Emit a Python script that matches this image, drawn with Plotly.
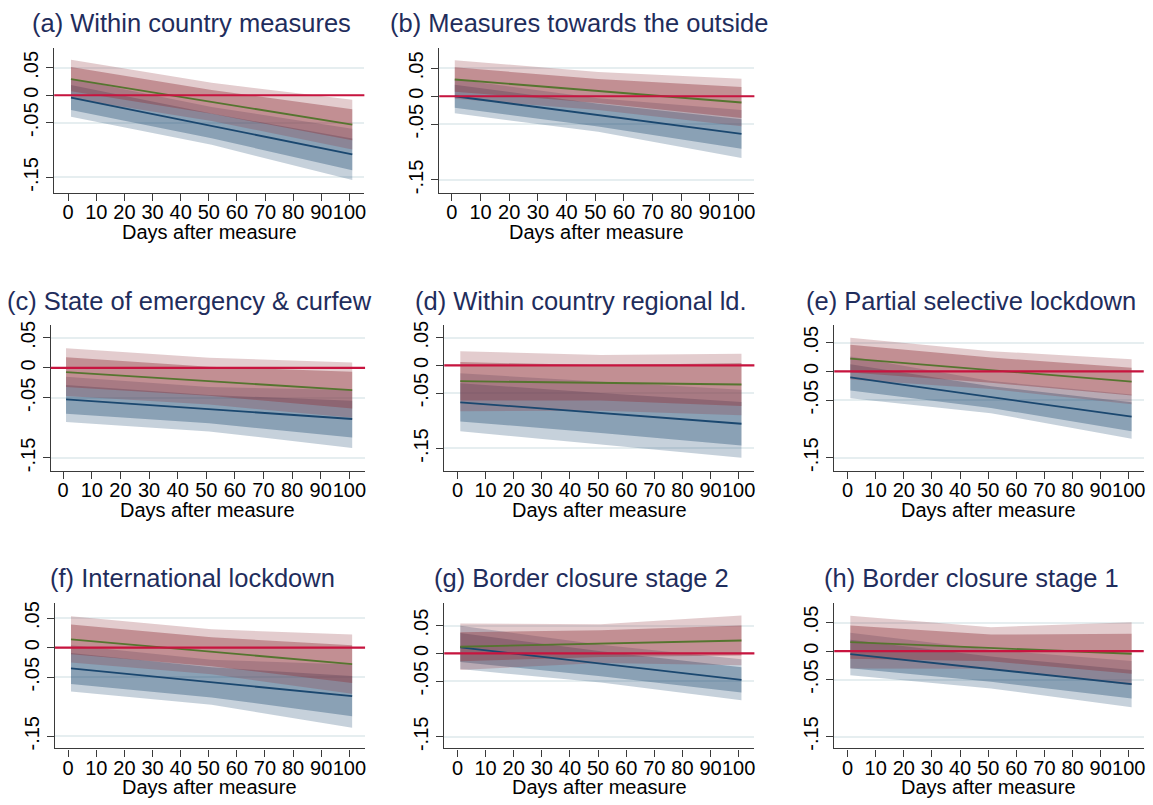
import plotly.graph_objects as go

# ---------------- data ----------------
TITLES = ["(a) Within country measures", "(b) Measures towards the outside",
          "(c) State of emergency & curfew", "(d) Within country regional ld.",
          "(e) Partial selective lockdown", "(f) International lockdown",
          "(g) Border closure stage 2", "(h) Border closure stage 1"]

LINE_DAYS = [1, 101]
BAND_DAYS = [1, 51, 101]

X_TICKS = [0, 10, 20, 30, 40, 50, 60, 70, 80, 90, 100]
X_TICK_LABELS = ["0", "10", "20", "30", "40", "50", "60", "70", "80", "90", "100"]
Y_TICKS = [-0.15, -0.05, 0, 0.05]
Y_TICK_LABELS = ["-.15", "-.05", "0", ".05"]
X_LABEL = "Days after measure"

# fitted lines (day 1, day 101)
BLUE_LINE = [[-0.0042, -0.1078], [0.0, -0.0676], [-0.0525, -0.0852], [-0.0667, -0.1054],
             [-0.0103, -0.0787], [-0.0352, -0.0821], [0.0107, -0.0476], [-0.0052, -0.0581]]
GREEN_LINE = [[0.0295, -0.0536], [0.030, -0.0112], [-0.0071, -0.0372], [-0.0286, -0.0345],
              [0.0224, -0.0178], [0.014, -0.0279], [0.0119, 0.0232], [0.0157, -0.0047]]

# confidence bands (day 1, day 51, day 101)
BLUE_OUT_LO = [[-0.0392, -0.0905, -0.1547], [-0.0306, -0.0638, -0.1106], [-0.0902, -0.1059, -0.1333],
               [-0.119, -0.1423, -0.1667], [-0.0466, -0.0725, -0.1172], [-0.0743, -0.0967, -0.1358],
               [-0.0283, -0.0525, -0.0845], [-0.0424, -0.0657, -0.0988]]
BLUE_IN_LO = [[-0.0271, -0.0785, -0.1367], [-0.0206, -0.054, -0.0941], [-0.0765, -0.0924, -0.1158],
              [-0.1012, -0.122, -0.1446], [-0.0333, -0.0635, -0.104], [-0.0615, -0.0842, -0.1162],
              [-0.0153, -0.041, -0.0702], [-0.0302, -0.0537, -0.0831]]
BLUE_IN_HI = [[0.0187, -0.0335, -0.0789], [0.0206, -0.0136, -0.0411], [-0.0285, -0.0454, -0.0546],
              [-0.0322, -0.05, -0.0662], [0.0127, -0.0255, -0.0534], [-0.0089, -0.0332, -0.048],
              [0.0367, 0.004, -0.025], [0.0198, -0.0097, -0.0331]]
BLUE_OUT_HI = [[0.0308, -0.0215, -0.0609], [0.0306, -0.0038, -0.0246], [-0.0148, -0.0319, -0.0371],
               [-0.0144, -0.0297, -0.0441], [0.026, -0.0165, -0.0402], [0.0039, -0.0207, -0.0284],
               [0.0497, 0.0155, -0.0107], [0.032, 0.0023, -0.0174]]
GREEN_OUT_LO = [[-0.006, -0.0471, -0.0988], [-0.0047, -0.0246, -0.0536], [-0.047, -0.0612, -0.0831],
                [-0.0828, -0.0821, -0.0898], [-0.0138, -0.0307, -0.0569], [-0.0251, -0.045, -0.0781],
                [-0.0298, -0.0174, -0.0215], [-0.0308, -0.0309, -0.06]]
GREEN_IN_LO = [[0.0072, -0.0339, -0.0819], [0.0082, -0.012, -0.0389], [-0.0317, -0.0463, -0.0678],
               [-0.0632, -0.0636, -0.0732], [-0.0018, -0.0197, -0.0419], [-0.0111, -0.0315, -0.0597],
               [-0.0143, -0.0064, -0.0036], [-0.0134, -0.018, -0.0396]]
GREEN_IN_HI = [[0.0518, 0.0097, -0.0253], [0.0518, 0.0308, 0.0165], [0.0175, 0.0019, -0.0066],
               [0.006, 0.0004, 0.0042], [0.0466, 0.0243, 0.0063], [0.0391, 0.0175, 0.0039],
               [0.0381, 0.0416, 0.05], [0.0448, 0.029, 0.0302]]
GREEN_OUT_HI = [[0.065, 0.0229, -0.0084], [0.0647, 0.0434, 0.0312], [0.0328, 0.0168, 0.0087],
                [0.0256, 0.0189, 0.0208], [0.0586, 0.0353, 0.0213], [0.0531, 0.031, 0.0223],
                [0.0536, 0.0526, 0.0679], [0.0622, 0.0419, 0.0506]]

# ---------------- layout / style ----------------
W, H = 1153, 805
# plot-area boxes in pixels: (left, right, top, bottom)
BOXES = [(54.3, 365.0, 43.3, 190.0), (440.0, 755.7, 43.3, 190.0),
         (50.7, 365.7, 323.3, 470.0), (445.0, 755.7, 323.3, 470.0), (835.7, 1145.7, 323.3, 470.0),
         (55.0, 365.7, 603.3, 750.0), (445.0, 755.7, 603.3, 750.0), (835.7, 1145.7, 603.3, 750.0)]
X_RANGES = [[-4.97, 105.3], [-4.42, 105.5], [-4.39, 105.5], [-4.72, 105.6],
            [-4.72, 105.3], [-4.72, 105.6], [-4.72, 105.6], [-4.72, 105.3]]
Y_RANGES = [[-0.179, 0.0864], [-0.174, 0.0866], [-0.1716, 0.0705], [-0.1905, 0.072],
            [-0.173, 0.080], [-0.1707, 0.0755], [-0.171, 0.0905], [-0.171, 0.0843]]

NAVY = "#1a476f"
GREEN = "#55752f"
BLUE_OUT_FILL = "rgba(26,71,111,0.25)"
BLUE_IN_FILL = "rgba(26,71,111,0.35)"
PINK_OUT_FILL = "rgba(144,53,59,0.25)"
PINK_IN_FILL = "rgba(144,53,59,0.40)"
ZERO_COLOR = "#c8143f"
GRID_COLOR = "#e6eef0"
AXIS_COLOR = "#3a3a3a"
TITLE_COLOR = "#1f2d5c"
FONT = "Arial, 'Liberation Sans', sans-serif"

fig = go.Figure()
annotations = []
shapes = []


def band(xa, ya, lo, hi, color):
    fig.add_trace(go.Scatter(
        x=BAND_DAYS + BAND_DAYS[::-1], y=hi + lo[::-1],
        fill="toself", fillcolor=color, mode="lines", line=dict(width=0),
        xaxis=xa, yaxis=ya, showlegend=False, hoverinfo="skip"))


for i in range(len(TITLES)):
    n = "" if i == 0 else str(i + 1)
    xa, ya = "x" + n, "y" + n
    band(xa, ya, BLUE_OUT_LO[i], BLUE_OUT_HI[i], BLUE_OUT_FILL)
    band(xa, ya, BLUE_IN_LO[i], BLUE_IN_HI[i], BLUE_IN_FILL)
    band(xa, ya, GREEN_OUT_LO[i], GREEN_OUT_HI[i], PINK_OUT_FILL)
    band(xa, ya, GREEN_IN_LO[i], GREEN_IN_HI[i], PINK_IN_FILL)
    fig.add_trace(go.Scatter(x=LINE_DAYS, y=BLUE_LINE[i], mode="lines",
                             line=dict(color=NAVY, width=1.8), xaxis=xa, yaxis=ya,
                             showlegend=False))
    fig.add_trace(go.Scatter(x=LINE_DAYS, y=GREEN_LINE[i], mode="lines",
                             line=dict(color=GREEN, width=1.8), xaxis=xa, yaxis=ya,
                             showlegend=False))

    l, r, t, b = BOXES[i]
    fig.layout["xaxis" + n] = dict(
        domain=[l / W, r / W], range=X_RANGES[i], anchor=ya,
        tickmode="array", tickvals=X_TICKS, ticktext=X_TICK_LABELS, tickangle=0,
        showgrid=False, zeroline=False, showline=True, linecolor=AXIS_COLOR, linewidth=1.2,
        ticks="outside", ticklen=7, tickwidth=1.2, tickcolor=AXIS_COLOR, ticklabelstandoff=-6,
        tickfont=dict(family=FONT, size=20, color="black"), fixedrange=True)
    fig.layout["yaxis" + n] = dict(
        domain=[1 - b / H, 1 - t / H], range=Y_RANGES[i], anchor=xa,
        tickmode="array", tickvals=Y_TICKS, ticktext=Y_TICK_LABELS, tickangle=-90,
        showgrid=True, gridcolor=GRID_COLOR, gridwidth=1.5,
        zeroline=False, showline=True, linecolor=AXIS_COLOR, linewidth=1.2,
        ticks="outside", ticklen=7, tickwidth=1.2, tickcolor=AXIS_COLOR,
        tickfont=dict(family=FONT, size=20, color="black"), fixedrange=True)

    shapes.append(dict(type="line", xref=xa + " domain", yref=ya, x0=0, x1=1, y0=0, y1=0,
                       line=dict(color=ZERO_COLOR, width=2.2), layer="above"))

    cx = (l + r) / 2 - 18
    annotations.append(dict(text=TITLES[i], xref="paper", yref="paper",
                            x=cx / W, y=1 - (t - 25) / H, xanchor="center", yanchor="middle",
                            showarrow=False, font=dict(family=FONT, size=25.5, color=TITLE_COLOR)))
    annotations.append(dict(text=X_LABEL, xref="paper", yref="paper",
                            x=((l + r) / 2) / W, y=1 - (b + 39) / H,
                            xanchor="center", yanchor="middle",
                            showarrow=False, font=dict(family=FONT, size=20, color="black")))

fig.update_layout(width=W, height=H, margin=dict(l=0, r=0, t=0, b=0),
                  paper_bgcolor="white", plot_bgcolor="white",
                  annotations=annotations, shapes=shapes, showlegend=False)

fig.write_html("out.html", config={"displayModeBar": False},
               post_script="document.body.style.margin='0px';")
